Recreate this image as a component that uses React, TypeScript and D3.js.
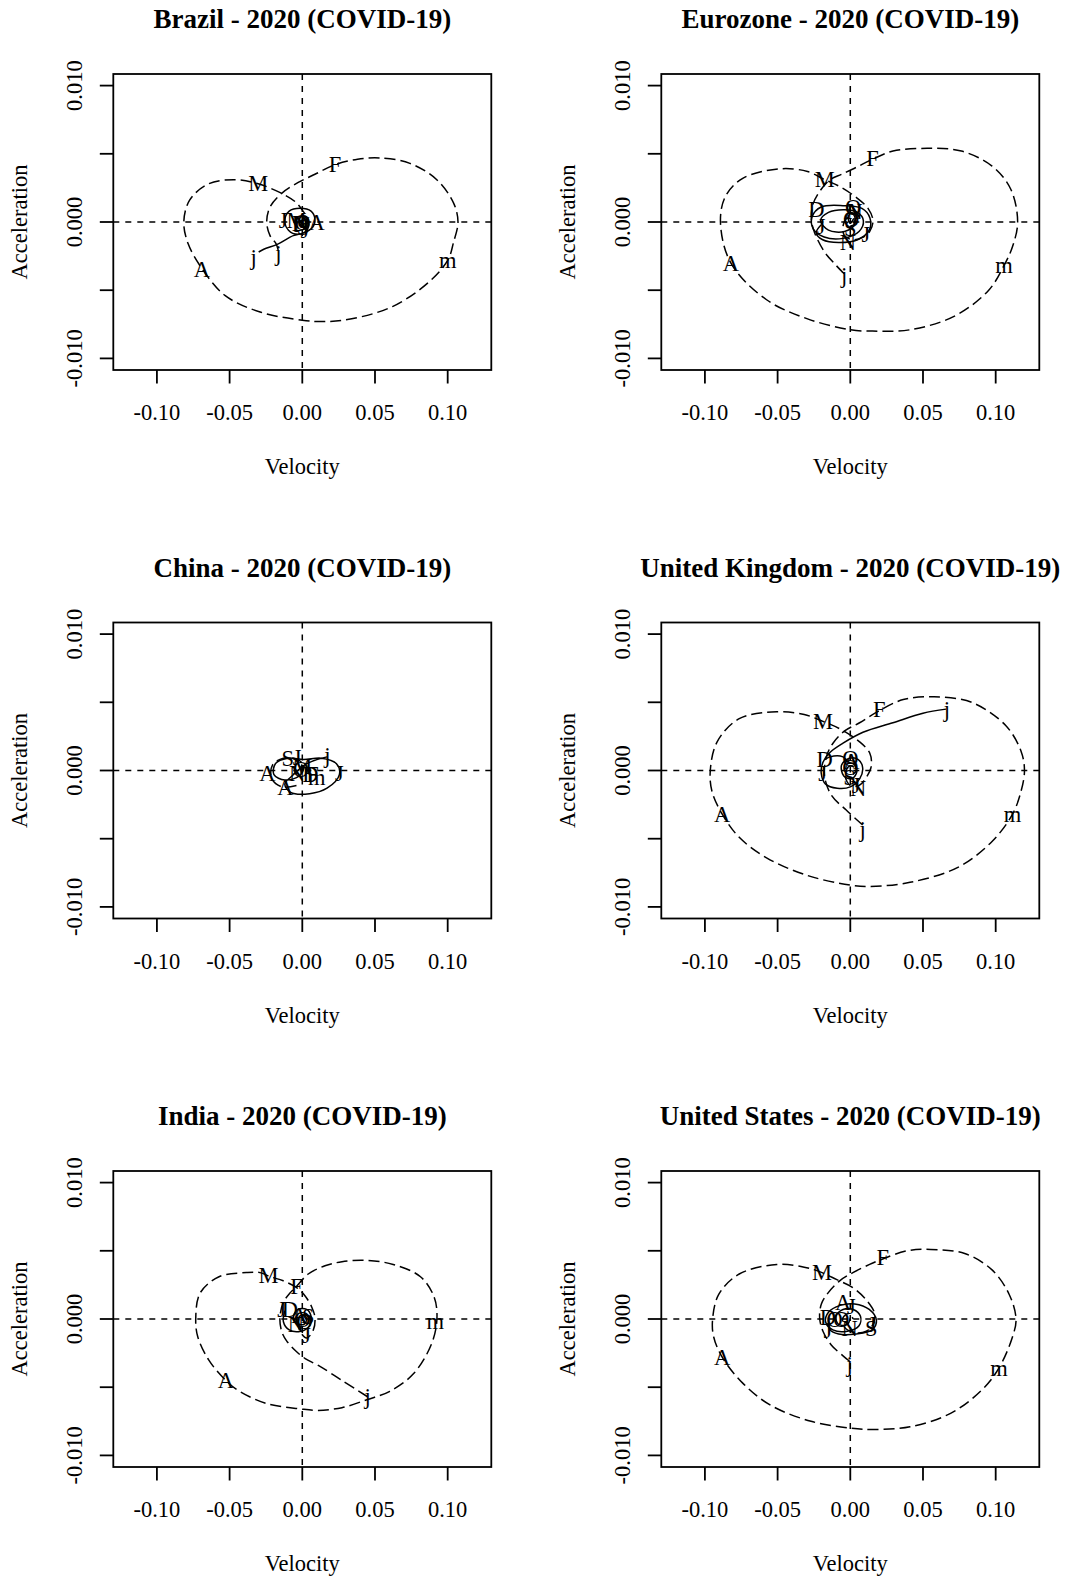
import React from "react";
import * as d3 from "d3";

type Pt = [number, number];
type Lab = [string, number, number];

// ---------- Brazil ----------
const brazilDashed: Pt[] = [
  [-0.0165, -0.0021], [-0.018, -0.0016], [-0.0222, -0.001], [-0.0245, 0.0], [-0.0222, 0.0011],
  [-0.0142, 0.0021], [-0.0028, 0.0029], [0.0087, 0.0035], [0.0225, 0.0042], [0.038, 0.0046],
  [0.0531, 0.0047], [0.074, 0.0043], [0.0925, 0.0031], [0.104, 0.0014], [0.1071, 0.0],
  [0.104, -0.0015], [0.1001, -0.0028], [0.086, -0.0045], [0.062, -0.0062], [0.034, -0.0071],
  [0.0155, -0.0073], [0.0, -0.0072], [-0.029, -0.0066], [-0.053, -0.0054], [-0.0691, -0.0034],
  [-0.0785, -0.0016], [-0.0815, 0.0], [-0.0775, 0.0016], [-0.0645, 0.0028], [-0.0456, 0.0031],
  [-0.0303, 0.0028], [-0.0142, 0.0021], [-0.005, 0.0015], [-0.0009, 0.001], [0.0025, 0.0004],
  [0.0018, -0.0004], [-0.003, -0.0004], [-0.0045, 0.0002], [-0.0005, 0.0005], [0.0035, 0.0001],
  [0.0012, -0.0003], [-0.001, 0.0], [0.0005, 0.0002],
];
const brazilSolid: Pt[] = [
  [-0.03, -0.0022], [-0.0265, -0.002], [-0.0165, -0.0016], [-0.0062, -0.001], [0.001, -0.0008],
  [0.007, -0.0004], [0.0087, 0.0002], [0.006, 0.0008], [-0.0015, 0.001], [-0.009, 0.0008],
  [-0.012, 0.0001], [-0.0095, -0.0006], [-0.003, -0.0009], [0.003, -0.0006], [0.0045, 0.0],
  [0.0025, 0.0004], [-0.001, 0.0004], [-0.0022, 0.0], [0.0, -0.0003], [0.0015, -0.0001],
];
const brazilLabels: Lab[] = [
  ["j", -0.0165, -0.0023], ["F", 0.0225, 0.0042], ["m", 0.1001, -0.0028], ["A", -0.0691, -0.0035],
  ["M", -0.0303, 0.0028], ["j", -0.0335, -0.0026], ["J", -0.0131, 0.0001], ["A", 0.0099, 0.0],
  ["M", -0.0039, 0.0001], ["D", -0.0016, -0.0001], ["O", 0.0, 0.0], ["N", -0.0005, -0.0002],
  ["S", 0.0005, -0.0004], ["J", 0.0018, -0.0006],
];

// ---------- Eurozone ----------
const euroDashed: Pt[] = [
  [-0.0042, -0.0038], [-0.0096, -0.0032], [-0.0177, -0.0022], [-0.0245, -0.0008], [-0.0268, 0.0002],
  [-0.0257, 0.0013], [-0.02, 0.0024], [-0.014, 0.0031], [-0.006, 0.0035], [0.004, 0.004],
  [0.0153, 0.0046], [0.0294, 0.0052], [0.0529, 0.0054], [0.0764, 0.0052], [0.0975, 0.0041],
  [0.1104, 0.0024], [0.1151, 0.0], [0.1116, -0.0018], [0.1057, -0.0032], [0.0952, -0.005],
  [0.0717, -0.0069], [0.0411, -0.0079], [0.0153, -0.008], [0.0, -0.0079], [-0.0294, -0.0071],
  [-0.0576, -0.0057], [-0.0822, -0.003], [-0.0893, 0.0], [-0.0858, 0.0019], [-0.074, 0.0032],
  [-0.0482, 0.0039], [-0.0294, 0.0037], [-0.0176, 0.0031], [-0.0073, 0.0026], [0.0041, 0.0018],
  [0.0122, 0.001], [0.0156, 0.0001], [0.0133, -0.0007], [0.009, -0.0011], [0.002, -0.0013],
  [-0.004, -0.001], [-0.005, -0.0003], [-0.002, 0.0003], [0.002, 0.0003], [0.0025, -0.0002],
  [0.0, -0.0003],
];
const euroSolid: Pt[] = [
  [-0.02, -0.0002], [-0.0235, -0.0008], [-0.019, -0.0013], [-0.008, -0.0015], [0.005, -0.0013],
  [0.013, -0.0006], [0.0135, 0.0003], [0.008, 0.001], [-0.005, 0.0012], [-0.02, 0.0011],
  [-0.0262, 0.0004], [-0.0255, -0.0005], [-0.018, -0.0011], [-0.005, -0.0012], [0.006, -0.0007],
  [0.009, 0.0001], [0.005, 0.0007], [-0.004, 0.0009], [-0.015, 0.0007], [-0.0205, 0.0001],
  [-0.015, -0.0006], [-0.004, -0.0007], [0.003, -0.0002], [0.003, 0.0004], [0.0005, 0.0007],
  [-0.0015, 0.0003], [0.0, -0.0001], [0.002, 0.0002],
];
const euroLabels: Lab[] = [
  ["j", -0.0042, -0.0039], ["F", 0.0153, 0.0047], ["m", 0.1057, -0.0032], ["A", -0.0822, -0.003],
  ["M", -0.0176, 0.0031], ["D", -0.0234, 0.0009], ["J", -0.02, -0.0003], ["O", 0.002, 0.0011],
  ["A", 0.001, 0.0008], ["N", 0.003, 0.0008], ["O", 0.0005, 0.0002], ["S", 0.0, -0.0005],
  ["N", -0.0016, -0.0015], ["J", 0.0108, -0.0009],
];

// ---------- China ----------
const chinaDashed: Pt[] = [
  [-0.004, -0.0011], [-0.014, -0.0012], [-0.021, -0.0006], [-0.0205, 0.0004], [-0.013, 0.0009],
  [-0.003, 0.0008], [0.001, 0.0003], [-0.001, -0.0002], [0.0, 0.0002],
];
const chinaSolid: Pt[] = [
  [0.017, 0.001], [0.01, 0.0008], [0.003, 0.0005], [-0.001, 0.0002], [-0.006, -0.0003],
  [-0.012, -0.001], [-0.008, -0.0016], [0.005, -0.0017], [0.017, -0.0013], [0.0255, -0.0003],
  [0.0235, 0.0005], [0.013, 0.0009], [0.001, 0.0008], [-0.01, 0.0009], [-0.0185, 0.0005],
  [-0.0195, -0.0003], [-0.012, -0.0007], [-0.002, -0.0004], [0.001, 0.0002], [-0.0005, 0.0004],
  [0.0, 0.0],
];
const chinaLabels: Lab[] = [
  ["j", 0.0172, 0.0011], ["J", 0.0255, -0.0002], ["A", -0.024, -0.0002], ["A", -0.0117, -0.0012],
  ["S", -0.01, 0.0009], ["J", -0.0035, 0.001], ["M", 0.0, 0.0003], ["N", -0.0035, -0.0002],
  ["D", 0.0055, -0.0003], ["F", 0.007, -0.0003], ["m", 0.01, -0.0005], ["O", -0.001, 0.0001],
];

// ---------- United Kingdom ----------
const ukDashed: Pt[] = [
  [0.0085, -0.004], [-0.0028, -0.0029], [-0.0131, -0.0018], [-0.0177, -0.0004], [-0.0165, 0.001],
  [-0.0119, 0.002], [-0.0039, 0.0029], [0.0064, 0.0035], [0.0185, 0.0043], [0.0364, 0.0052],
  [0.0576, 0.0054], [0.0834, 0.005], [0.1069, 0.0033], [0.1175, 0.0014], [0.1198, 0.0],
  [0.1175, -0.0015], [0.1116, -0.0032], [0.0975, -0.0052], [0.074, -0.0071], [0.0411, -0.0082],
  [0.0129, -0.0085], [0.0, -0.0084], [-0.0294, -0.0077], [-0.0576, -0.0064], [-0.0764, -0.0049],
  [-0.0881, -0.0032], [-0.0952, -0.0015], [-0.0963, 0.0], [-0.0916, 0.0021], [-0.0764, 0.0038],
  [-0.0505, 0.0043], [-0.0317, 0.0041], [-0.0188, 0.0036], [-0.0062, 0.003], [0.0064, 0.0021],
  [0.0133, 0.0013], [0.0144, 0.0003], [0.011, -0.0005], [0.006, -0.0011], [0.0, -0.0011],
  [-0.0035, -0.0004], [-0.001, 0.0003], [0.003, 0.0002], [0.002, -0.0003],
];
const ukSolid: Pt[] = [
  [0.0658, 0.0045], [0.05, 0.0042], [0.0293, 0.0035], [0.0087, 0.0028], [-0.005, 0.002],
  [-0.0142, 0.0013], [-0.0188, 0.0006], [-0.02, -0.0002], [-0.017, -0.001], [-0.009, -0.0013],
  [0.0, -0.0012], [0.0065, -0.0006], [0.0085, 0.0002], [0.0055, 0.0008], [-0.0005, 0.0009],
  [-0.006, 0.0004], [-0.0045, -0.0004], [0.001, -0.0006], [0.0045, -0.0001], [0.0025, 0.0005],
  [-0.001, 0.0006], [-0.005, 0.001], [-0.014, 0.001], [-0.0175, 0.0008],
];
const ukLabels: Lab[] = [
  ["j", 0.0085, -0.0043], ["F", 0.02, 0.0045], ["m", 0.1116, -0.0032], ["A", -0.0881, -0.0032],
  ["M", -0.0188, 0.0036], ["j", 0.0665, 0.0045], ["D", -0.0177, 0.0008], ["J", -0.019, -0.0002],
  ["O", 0.0, 0.0009], ["A", 0.0008, 0.0007], ["O", 0.0, 0.0002], ["S", -0.0005, -0.0005],
  ["N", 0.0053, -0.0013], ["J", 0.004, -0.0011],
];

// ---------- India ----------
const indiaDashed: Pt[] = [
  [0.0449, -0.0057], [0.0273, -0.0045], [0.011, -0.0034], [0.002, -0.0029], [-0.0039, -0.0024],
  [-0.0108, -0.0016], [-0.0142, -0.0009], [-0.0154, 0.0001], [-0.0131, 0.0012], [-0.0085, 0.0019],
  [-0.0039, 0.0024], [0.0041, 0.0033], [0.0156, 0.0039], [0.0273, 0.0042], [0.0437, 0.0043],
  [0.0625, 0.004], [0.0813, 0.0031], [0.0907, 0.0016], [0.0926, 0.0], [0.089, -0.0018],
  [0.0766, -0.004], [0.0602, -0.0053], [0.0449, -0.0059], [0.0273, -0.0065], [0.0108, -0.0067],
  [-0.0009, -0.0066], [-0.0244, -0.0062], [-0.0432, -0.0053], [-0.0526, -0.0045], [-0.0644, -0.003],
  [-0.0719, -0.0013], [-0.0733, 0.0], [-0.0703, 0.0019], [-0.0573, 0.0031], [-0.0385, 0.0034],
  [-0.0291, 0.0034], [-0.0221, 0.0031], [-0.0131, 0.0028], [-0.0039, 0.0023], [0.0018, 0.0017],
  [0.0064, 0.0009], [0.0087, 0.0001], [0.0076, -0.0008], [0.003, -0.0014], [-0.001, -0.001],
  [-0.003, -0.0002], [0.0, 0.0003], [0.0025, 0.0],
];
const indiaSolid: Pt[] = [
  [-0.012, 0.0006], [-0.013, -0.0002], [-0.009, -0.0008], [-0.001, -0.0009], [0.005, -0.0005],
  [0.006, 0.0002], [0.003, 0.0007], [-0.003, 0.0007], [-0.006, 0.0002], [-0.004, -0.0003],
  [0.001, -0.0004], [0.003, 0.0], [0.001, 0.0003], [-0.001, 0.0001],
];
const indiaLabels: Lab[] = [
  ["j", 0.0449, -0.0057], ["F", -0.0039, 0.0024], ["m", 0.0915, -0.0002], ["A", -0.0526, -0.0045],
  ["M", -0.0233, 0.0032], ["J", 0.003, -0.0012], ["N", -0.0045, -0.0004], ["D", -0.0085, 0.0007],
  ["J", -0.0142, 0.0007], ["S", 0.0041, 0.0002], ["O", 0.0, 0.0], ["A", -0.002, 0.0003],
  ["O", 0.0015, -0.0002],
];

// ---------- United States ----------
const usDashed: Pt[] = [
  [-0.0005, -0.0031], [-0.005, -0.0027], [-0.0131, -0.0019], [-0.0188, -0.0009], [-0.0211, 0.0001],
  [-0.0199, 0.0011], [-0.0154, 0.0019], [-0.0073, 0.0028], [0.0018, 0.0034], [0.0133, 0.004],
  [0.0223, 0.0044], [0.0388, 0.005], [0.0552, 0.0051], [0.0787, 0.0048], [0.0975, 0.0036],
  [0.1093, 0.0018], [0.114, 0.0], [0.1116, -0.0013], [0.1022, -0.0036], [0.0905, -0.0052],
  [0.0693, -0.0069], [0.0411, -0.0079], [0.0153, -0.0081], [0.0, -0.008], [-0.027, -0.0075],
  [-0.0552, -0.0063], [-0.074, -0.0047], [-0.0881, -0.0028], [-0.094, -0.0013], [-0.0947, 0.0],
  [-0.0905, 0.0018], [-0.0764, 0.0033], [-0.0505, 0.004], [-0.0317, 0.0038], [-0.0194, 0.0034],
  [-0.0096, 0.0029], [0.0018, 0.0023], [0.011, 0.0014], [0.0167, 0.0004], [0.0156, -0.0004],
  [0.011, -0.0009], [0.003, -0.001], [-0.004, -0.0006], [-0.005, 0.0001], [-0.001, 0.0004],
  [0.002, 0.0],
];
const usSolid: Pt[] = [
  [-0.015, 0.0001], [-0.014, -0.0008], [-0.008, -0.0011], [0.004, -0.0011], [0.015, -0.0008],
  [0.018, -0.0001], [0.013, 0.0007], [0.003, 0.0011], [-0.007, 0.001], [-0.015, 0.0005],
  [-0.017, -0.0002], [-0.012, -0.0008], [-0.002, -0.0009], [0.006, -0.0005], [0.007, 0.0002],
  [0.002, 0.0007], [-0.005, 0.0007], [-0.01, 0.0002], [-0.008, -0.0004], [-0.002, -0.0004],
  [0.0, 0.0001],
];
const usLabels: Lab[] = [
  ["j", -0.0005, -0.0033], ["F", 0.0223, 0.0045], ["m", 0.1022, -0.0036], ["A", -0.0881, -0.0028],
  ["M", -0.0194, 0.0034], ["S", 0.0144, -0.0007], ["J", 0.015, -0.0004], ["A", -0.005, 0.0012],
  ["J", 0.0007, 0.0009], ["D", -0.0154, 0.0001], ["O", -0.0108, 0.0], ["O", -0.0062, 0.0],
  ["J", -0.0154, -0.0008], ["N", -0.0005, -0.0007],
];

// ---------- Axes ----------
const xTicks = [-0.1, -0.05, 0, 0.05, 0.1];
const xTickLabels = ["-0.10", "-0.05", "0.00", "0.05", "0.10"];
const yTicks = [-0.01, -0.005, 0, 0.005, 0.01];
const yTickLabels = ["-0.010", "", "0.000", "", "0.010"];
const xDomain: Pt = [-0.13, 0.13];
const yDomain: Pt = [-0.01085, 0.01085];

const panels = [
  { title: "Brazil - 2020 (COVID-19)", dashed: brazilDashed, solid: brazilSolid, labels: brazilLabels, col: 0, row: 0 },
  { title: "Eurozone - 2020 (COVID-19)", dashed: euroDashed, solid: euroSolid, labels: euroLabels, col: 1, row: 0 },
  { title: "China - 2020 (COVID-19)", dashed: chinaDashed, solid: chinaSolid, labels: chinaLabels, col: 0, row: 1 },
  { title: "United Kingdom - 2020 (COVID-19)", dashed: ukDashed, solid: ukSolid, labels: ukLabels, col: 1, row: 1 },
  { title: "India - 2020 (COVID-19)", dashed: indiaDashed, solid: indiaSolid, labels: indiaLabels, col: 0, row: 2 },
  { title: "United States - 2020 (COVID-19)", dashed: usDashed, solid: usSolid, labels: usLabels, col: 1, row: 2 },
];

const FONT = "'Liberation Serif', 'Times New Roman', serif";
const L = 113.3, R = 491.3, T = 74, B = 370;
const CX = (L + R) / 2;

function Panel({ p }: { p: typeof panels[number] }) {
  const x = d3.scaleLinear().domain(xDomain).range([L, R]);
  const y = d3.scaleLinear().domain(yDomain).range([B, T]);
  const line = d3.line<Pt>().x((d) => x(d[0])).y((d) => y(d[1])).curve(d3.curveCatmullRom.alpha(0.5));
  const ox = p.col * 548;
  const oy = p.row * 548.5;
  return (
    <g transform={`translate(${ox},${oy})`} fontFamily={FONT} fill="#000">
      <text x={CX} y={28} textAnchor="middle" fontWeight="bold" fontSize={27}>{p.title}</text>
      <line x1={L} x2={R} y1={y(0)} y2={y(0)} stroke="#000" strokeWidth={1.5} strokeDasharray="6 6" />
      <line x1={x(0)} x2={x(0)} y1={T} y2={B} stroke="#000" strokeWidth={1.5} strokeDasharray="6 6" />
      <path d={line(p.dashed) || ""} fill="none" stroke="#000" strokeWidth={1.5} strokeDasharray="11 5" />
      <path d={line(p.solid) || ""} fill="none" stroke="#000" strokeWidth={1.5} />
      {p.labels.map((l, i) => (
        <text key={i} x={x(l[1])} y={y(l[2])} dy="0.34em" textAnchor="middle" fontSize={22.5}>{l[0]}</text>
      ))}
      <rect x={L} y={T} width={R - L} height={B - T} fill="none" stroke="#000" strokeWidth={1.8} />
      {xTicks.map((t, i) => (
        <g key={i}>
          <line x1={x(t)} x2={x(t)} y1={B} y2={B + 13.5} stroke="#000" strokeWidth={1.8} />
          <text x={x(t)} y={420} textAnchor="middle" fontSize={22.5}>{xTickLabels[i]}</text>
        </g>
      ))}
      {yTicks.map((t, i) => (
        <g key={i}>
          <line x1={L} x2={L - 13.5} y1={y(t)} y2={y(t)} stroke="#000" strokeWidth={1.8} />
          {yTickLabels[i] && (
            <text transform={`translate(82,${y(t)}) rotate(-90)`} textAnchor="middle" fontSize={22.5}>{yTickLabels[i]}</text>
          )}
        </g>
      ))}
      <text x={CX} y={474} textAnchor="middle" fontSize={22.5}>Velocity</text>
      <text transform={`translate(27,${(T + B) / 2}) rotate(-90)`} textAnchor="middle" fontSize={22.5}>Acceleration</text>
    </g>
  );
}

export default function App() {
  return (
    <svg width={1070} height={1580} style={{ position: "absolute", left: 0, top: 0, background: "#fff" }}>
      <rect width={1070} height={1580} fill="#fff" />
      {panels.map((p, i) => (
        <Panel key={i} p={p} />
      ))}
    </svg>
  );
}
